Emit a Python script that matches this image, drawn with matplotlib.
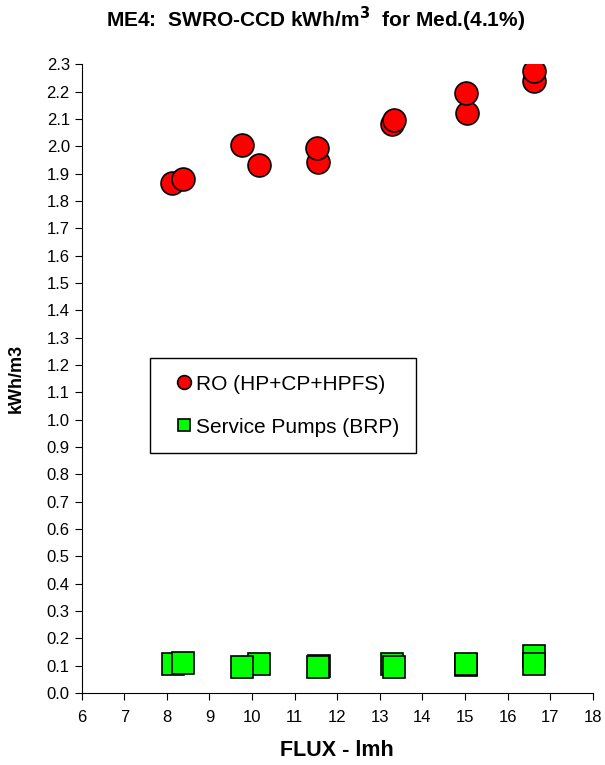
import numpy as np
import matplotlib.pyplot as plt

plt.rcParams['font.family'] = ['Liberation Sans', 'DejaVu Sans']

# RO (HP+CP+HPFS)
ro_flux = [8.13, 8.37, 9.76, 10.17, 11.55, 11.53, 13.28, 13.34, 15.04, 15.01, 16.62, 16.62]
ro_kwh = [1.867, 1.882, 2.005, 1.932, 1.943, 1.992, 2.083, 2.095, 2.12, 2.196, 2.238, 2.274]

# Service Pumps (BRP)
brp_flux = [8.15, 8.37, 10.17, 9.76, 11.56, 11.55, 13.28, 13.34, 15.02, 15.01, 16.62, 16.62]
brp_kwh = [0.106, 0.111, 0.106, 0.096, 0.098, 0.094, 0.106, 0.096, 0.104, 0.106, 0.135, 0.105]

xticks = np.arange(6, 19, 1)
yticks = np.arange(0, 2.31, 0.1)

fig = plt.figure(figsize=(6.05, 7.65), dpi=100)
ax = fig.add_axes([0.135, 0.094, 0.845, 0.822])

ax.plot(ro_flux, ro_kwh, 'o', ms=16.5, mfc='#ff0000', mec='black', mew=1.2,
        ls='none', label='RO (HP+CP+HPFS)')
ax.plot(brp_flux, brp_kwh, 's', ms=15.5, mfc='#00ff00', mec='black', mew=1.2,
        ls='none', label='Service Pumps (BRP)')

ax.set_xlim(6, 18)
ax.set_ylim(0, 2.3)
ax.set_xticks(xticks)
ax.set_yticks(yticks)
ax.set_yticklabels(['%.1f' % v for v in yticks])
ax.tick_params(labelsize=12, length=5, direction='out')
ax.tick_params(axis='x', pad=7)
ax.spines['top'].set_visible(False)
ax.spines['right'].set_visible(False)

ax.set_xlabel('FLUX - lmh', fontsize=15.5, fontweight='bold', labelpad=11)
ax.set_ylabel('kWh/m3', fontsize=13, fontweight='bold', labelpad=16)
fig.text(0.522, 0.975, 'ME4:  SWRO-CCD kWh/m$^\\mathbf{3}$  for Med.(4.1%)',
         ha='center', va='center', fontsize=15, fontweight='bold')

leg = ax.legend(loc='upper left', bbox_to_anchor=(0.134, 0.533), fontsize=15,
                markerscale=0.6, handlelength=1.6, handletextpad=-0.2,
                labelspacing=1.15, borderpad=0.8, borderaxespad=0,
                fancybox=False, edgecolor='black', framealpha=1)
leg.get_frame().set_linewidth(1.0)

fig.savefig('out.png', dpi=100)
